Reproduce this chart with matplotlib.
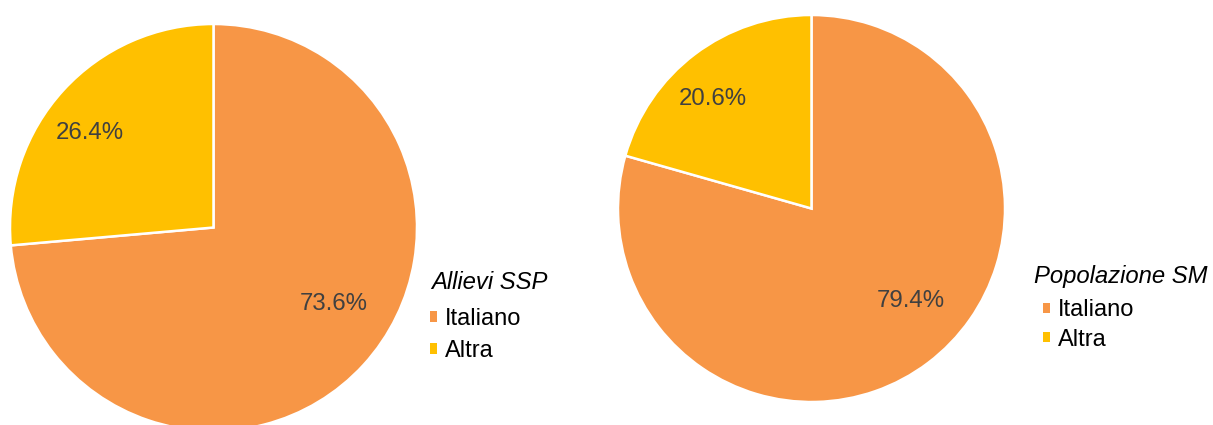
import numpy as np
import matplotlib
matplotlib.use('Agg')
import matplotlib.pyplot as plt

categorie = ['Italiano', 'Altra']
allievi_ssp = [73.6, 26.4]
popolazione_sm = [79.4, 20.6]
titoli = ['Allievi SSP', 'Popolazione SM']
colori = ['#F79646', '#FFC000']

plt.rcParams['font.family'] = ['Liberation Sans', 'DejaVu Sans']

W, H = 1213, 425
fig = plt.figure(figsize=(W/100, H/100), dpi=100)
fig.patch.set_facecolor('white')

# posizioni delle torte (in frazione di figura)
ax1 = fig.add_axes([10/W, -6/H, 407/W, 407/H])
ax2 = fig.add_axes([618/W, 23/H, 387/W, 387/H])

def torta(ax, valori, titolo, tit_pos, leg_pos, spacing):
    wedges, testi, autotesti = ax.pie(
        valori, colors=colori, startangle=90, counterclock=False,
        autopct='%.1f%%', pctdistance=0.72,
        wedgeprops=dict(edgecolor='white', linewidth=1.8),
        textprops=dict(color='#404040', fontsize=17.3))
    # Excel sposta un po' le etichette (rotazione antioraria + distanza)
    for t, rot, k in zip(autotesti, [10, 5], [0.97, 1.06]):
        x, y = t.get_position()
        a = np.deg2rad(rot)
        t.set_position((k*(x*np.cos(a) - y*np.sin(a)),
                        k*(x*np.sin(a) + y*np.cos(a))))
    ax.set_xlim(-1, 1)
    ax.set_ylim(-1, 1)
    ax.set_aspect('equal')
    fig.text(tit_pos[0]/W, 1 - tit_pos[1]/H, titolo, fontsize=17.2,
             style='italic', ha='left', va='baseline')
    leg = fig.legend(wedges, categorie, loc='center left',
                     bbox_to_anchor=(leg_pos[0]/W, 1 - leg_pos[1]/H),
                     frameon=False, fontsize=17, handlelength=0.3,
                     handleheight=0.3, handletextpad=0.35, borderpad=0,
                     borderaxespad=0, labelspacing=spacing)
    for h in leg.legend_handles:
        h.set_edgecolor('none')
    return leg

torta(ax1, allievi_ssp, titoli[0], (431, 289), (430, 335), 0.41)
torta(ax2, popolazione_sm, titoli[1], (1034, 283), (1043, 325), 0.31)

fig.savefig('out.png', dpi=100, facecolor='white')
